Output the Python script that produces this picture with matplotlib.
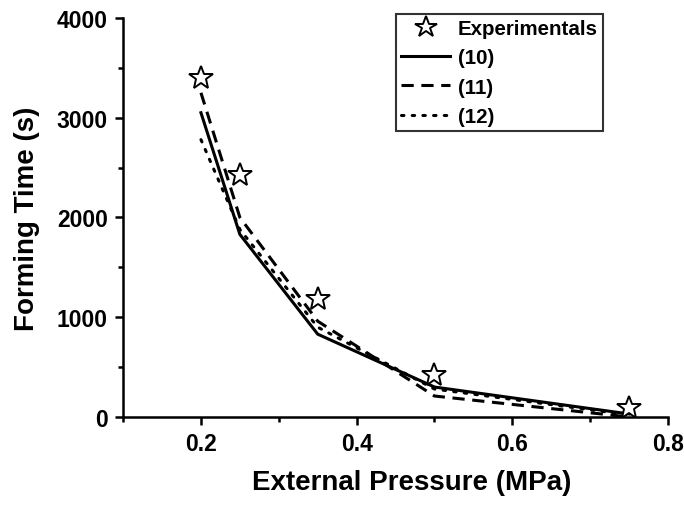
import matplotlib
matplotlib.use("Agg")
import matplotlib.pyplot as plt
from matplotlib.ticker import MultipleLocator

plt.rcParams['font.family'] = ['Liberation Sans', 'DejaVu Sans']

# pressure (MPa)
pressure = [0.2, 0.25, 0.35, 0.5, 0.75]

# forming time (s)
experimentals = [3400, 2430, 1180, 420, 90]
model10 = [3050, 1830, 830, 300, 30]
model11 = [3250, 2000, 960, 210, 0]
model12 = [2780, 1880, 900, 280, 20]

fig = plt.figure(figsize=(6.84, 5.06), dpi=100)
ax = fig.add_axes([0.18, 0.174, 0.7966, 0.7885])

ax.plot(pressure, model10, color='black', lw=2.2, ls='-', label='(10)')
ax.plot(pressure, model11, color='black', lw=2.2, ls=(0, (4, 2.5)), label='(11)')
ax.plot(pressure, model12, color='black', lw=2.2, ls=(0, (0.8, 2.7)),
        dash_capstyle='round', label='(12)')
ax.plot(pressure, experimentals, ls='none', marker='*', ms=18, mfc='white',
        mec='black', mew=1.4, label='Experimentals', zorder=5)

ax.set_xlim(0.1, 0.8)
ax.set_ylim(0, 4000)
ax.xaxis.set_major_locator(MultipleLocator(0.2))
ax.xaxis.set_minor_locator(MultipleLocator(0.1))
ax.yaxis.set_major_locator(MultipleLocator(1000))
ax.yaxis.set_minor_locator(MultipleLocator(500))
ax.set_xticks([0.2, 0.4, 0.6, 0.8])

for s in ['top', 'right']:
    ax.spines[s].set_visible(False)
for s in ['left', 'bottom']:
    ax.spines[s].set_linewidth(1.8)

ax.tick_params(which='major', direction='out', length=6, width=1.8,
               labelsize=16.5, pad=5)
ax.tick_params(which='minor', direction='out', length=3.5, width=1.8)
for lab in ax.get_xticklabels() + ax.get_yticklabels():
    lab.set_fontweight('bold')

ax.set_xlabel('External Pressure (MPa)', fontsize=20, fontweight='bold', labelpad=10)
ax.xaxis.label.set_x(0.53)
ax.set_ylabel('Forming Time (s)', fontsize=20, fontweight='bold', labelpad=12)

h, l = ax.get_legend_handles_labels()
order = [3, 0, 1, 2]
leg = ax.legend([h[i] for i in order], [l[i] for i in order],
                loc='upper right', bbox_to_anchor=(0.881, 1.01),
                prop={'size': 14.8, 'weight': 'bold'}, frameon=True, fancybox=False,
                edgecolor='black', borderpad=0.25, labelspacing=0.5,
                handlelength=2.35, handletextpad=0.4, borderaxespad=0,
                markerscale=0.9)
leg.get_frame().set_linewidth(1.5)

fig.savefig('out.png', dpi=100)
